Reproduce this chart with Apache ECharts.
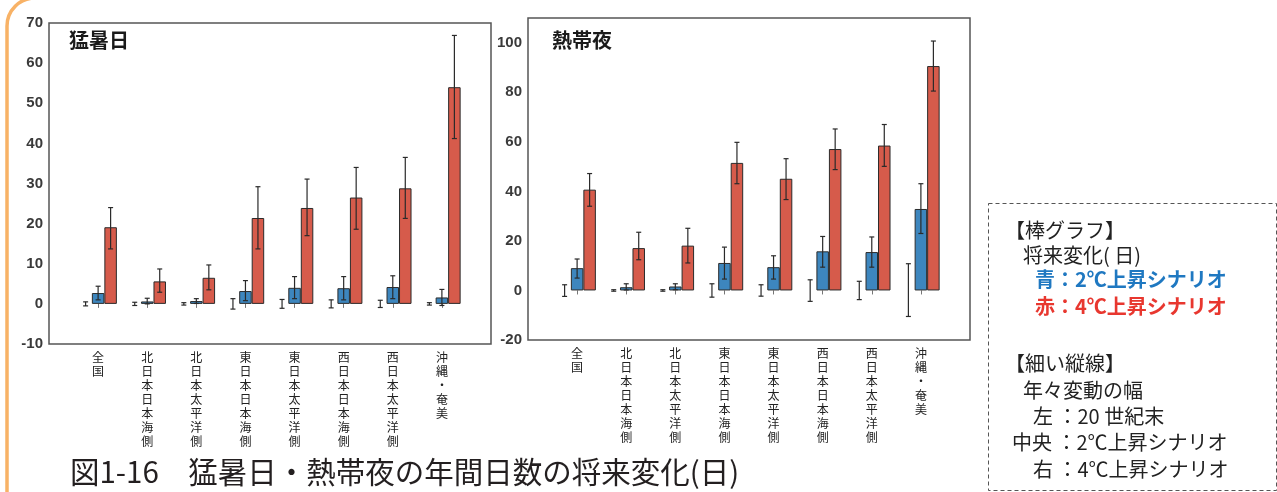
<!DOCTYPE html>
<html lang="ja">
<head>
<meta charset="utf-8">
<title>猛暑日・熱帯夜の年間日数の将来変化</title>
<script src="https://cdn.jsdelivr.net/npm/echarts@6/dist/echarts.min.js"></script>
<style>
  html, body { margin: 0; padding: 0; background: #fff; }
  #chart { width: 1277px; height: 492px; }
</style>
</head>
<body>
<div id="chart"></div>
<script>
// 地域区分
const regions = ['全国', '北日本日本海側', '北日本太平洋側', '東日本日本海側', '東日本太平洋側', '西日本日本海側', '西日本太平洋側', '沖縄・奄美'];

// 猛暑日 将来変化（日）
const moshoBlue = [2.7, 0.6, 0.7, 3.2, 4.0, 3.9, 4.2, 1.6];
const moshoRed = [19.1, 5.6, 6.5, 21.4, 23.9, 26.5, 28.8, 54.0];
// 年々変動の幅 [下端, 上端]
const moshoRange20c = [[-0.5, 0.5], [-0.4, 0.4], [-0.3, 0.3], [-1.3, 1.3], [-1.1, 1.1], [-1.0, 1.0], [-0.9, 0.9], [-0.3, 0.3]];
const moshoRangeBlue = [[1.0, 4.4], [0.0, 1.4], [0.1, 1.3], [0.8, 5.8], [1.3, 6.8], [1.0, 6.8], [1.3, 7.0], [-0.4, 3.6]];
const moshoRangeRed = [[13.7, 24.0], [2.9, 8.7], [3.5, 9.7], [13.7, 29.2], [17.0, 31.1], [18.6, 34.0], [21.3, 36.5], [41.2, 66.9]];

// 熱帯夜 将来変化（日）
const nettaiBlue = [9.0, 1.3, 1.6, 11.1, 9.4, 15.8, 15.5, 32.9];
const nettaiRed = [40.7, 17.1, 18.1, 51.5, 45.1, 57.1, 58.5, 90.6];
const nettaiRange20c = [[-2.4, 2.3], [-0.3, 0.3], [-0.3, 0.3], [-2.7, 2.7], [-2.3, 2.3], [-4.4, 4.3], [-3.7, 3.7], [-10.5, 10.8]];
const nettaiRangeBlue = [[5.0, 12.7], [0.2, 2.7], [0.3, 2.7], [4.6, 17.5], [4.6, 14.0], [9.4, 21.8], [9.4, 21.6], [23.0, 43.1]];
const nettaiRangeRed = [[34.0, 47.2], [12.4, 23.5], [11.1, 25.1], [43.1, 59.8], [36.7, 53.2], [48.8, 65.2], [50.1, 67.0], [80.5, 100.7]];

// 軸目盛
const moshoTicks = { min: -10, max: 70, interval: 10 };
const nettaiTicks = { min: -20, max: 110, interval: 20 };

const BAR_W = 12.5;
const CAP = 2.5;
const FONT_JP = "'Noto Sans CJK JP', sans-serif";

// 両端に空のカテゴリを置いて、棒の位置を元の図に合わせる
const pad = arr => ['-'].concat(arr, ['-']);
const categories = [''].concat(regions, ['']);

function errorData(ranges) {
  const out = [];
  ranges.forEach((list, slot) => {
    list.forEach((r, i) => out.push([i + 1, r[0], r[1], slot]));
  });
  return out;
}

function renderErrorBar(params, api) {
  const cat = api.value(0);
  const slot = api.value(3); // 0: 20世紀末, 1: 2℃, 2: 4℃
  const top = api.coord([cat, api.value(2)]);
  const bottom = api.coord([cat, api.value(1)]);
  const x = top[0] + (slot - 1) * BAR_W;
  const style = { stroke: '#2a2a2a', lineWidth: 1.2 };
  return {
    type: 'group',
    children: [
      { type: 'line', shape: { x1: x, y1: top[1], x2: x, y2: bottom[1] }, style: style },
      { type: 'line', shape: { x1: x - CAP, y1: top[1], x2: x + CAP, y2: top[1] }, style: style },
      { type: 'line', shape: { x1: x - CAP, y1: bottom[1], x2: x + CAP, y2: bottom[1] }, style: style }
    ]
  };
}

function makeSeries(g, blue, red, ranges) {
  return [
    { type: 'bar', xAxisIndex: g, yAxisIndex: g, data: pad(blue.map(() => 0)), barWidth: BAR_W, barGap: '0%',
      itemStyle: { color: 'transparent', borderWidth: 0 }, silent: true },
    { type: 'bar', xAxisIndex: g, yAxisIndex: g, data: pad(blue), barWidth: BAR_W, barGap: '0%',
      itemStyle: { color: '#3d86be', borderColor: '#2b2b2b', borderWidth: 1 } },
    { type: 'bar', xAxisIndex: g, yAxisIndex: g, data: pad(red), barWidth: BAR_W, barGap: '0%',
      itemStyle: { color: '#d65b4b', borderColor: '#2b2b2b', borderWidth: 1 } },
    { type: 'custom', xAxisIndex: g, yAxisIndex: g, data: errorData(ranges), renderItem: renderErrorBar,
      encode: { x: 0, y: [1, 2] }, z: 10 }
  ];
}

function xAxisOf(g) {
  return {
    gridIndex: g,
    type: 'category',
    boundaryGap: false,
    data: categories,
    axisLine: { show: false },
    axisTick: { show: true, length: 4, interval: (i, v) => v !== '', lineStyle: { color: '#777' } },
    axisLabel: {
      interval: 0,
      margin: 6,
      formatter: v => v.split('').join('\n'),
      fontSize: 12,
      lineHeight: 14,
      color: '#222',
      fontFamily: FONT_JP
    }
  };
}

function yAxisOf(g, t) {
  return {
    gridIndex: g,
    type: 'value',
    min: t.min,
    max: t.max,
    interval: t.interval,
    axisLine: { show: false },
    axisTick: { show: false },
    splitLine: { show: false },
    axisLabel: {
      margin: 6,
      fontSize: 15,
      fontWeight: 'bold',
      color: '#3a3a3a',
      fontFamily: "'Liberation Sans', sans-serif",
      formatter: v => (v % t.interval === 0 ? String(v) : '')
    }
  };
}

const legendLines = [
  { text: '【棒グラフ】', x: 1005, y: 230, color: '#222', bold: false },
  { text: '将来変化( 日)', x: 1023, y: 255, color: '#222', bold: false },
  { text: '青：2℃上昇シナリオ', x: 1035, y: 279, color: '#1f78c1', bold: true },
  { text: '赤：4℃上昇シナリオ', x: 1035, y: 306, color: '#e8372f', bold: true },
  { text: '【細い縦線】', x: 1005, y: 363, color: '#222', bold: false },
  { text: '年々変動の幅', x: 1023, y: 390, color: '#222', bold: false },
  { text: '左 ：20 世紀末', x: 1033, y: 416, color: '#222', bold: false },
  { text: '中央 ：2℃上昇シナリオ', x: 1012, y: 442, color: '#222', bold: false },
  { text: '右 ：4℃上昇シナリオ', x: 1033, y: 469, color: '#222', bold: false }
];

const chart = echarts.init(document.getElementById('chart'));

const option = {
  backgroundColor: '#fff',
  animation: false,
  title: [
    { text: '猛暑日', left: 69, top: 30, padding: 0,
      textStyle: { fontSize: 20, fontWeight: 'bold', color: '#1a1a1a', fontFamily: FONT_JP } },
    { text: '熱帯夜', left: 552, top: 30, padding: 0,
      textStyle: { fontSize: 20, fontWeight: 'bold', color: '#1a1a1a', fontFamily: FONT_JP } }
  ],
  grid: [
    { left: 49, top: 23, width: 442, height: 321, show: true, borderColor: '#555', borderWidth: 1.5, containLabel: false },
    { left: 528, top: 18, width: 442, height: 322, show: true, borderColor: '#555', borderWidth: 1.5, containLabel: false }
  ],
  xAxis: [xAxisOf(0), xAxisOf(1)],
  yAxis: [yAxisOf(0, moshoTicks), yAxisOf(1, nettaiTicks)],
  series: makeSeries(0, moshoBlue, moshoRed, [moshoRange20c, moshoRangeBlue, moshoRangeRed])
    .concat(makeSeries(1, nettaiBlue, nettaiRed, [nettaiRange20c, nettaiRangeBlue, nettaiRangeRed])),
  graphic: [
    // 左側のオレンジ枠
    { type: 'rect', shape: { x: 7, y: -2, width: 2000, height: 2000, r: 28 },
      style: { fill: 'none', stroke: '#f8b266', lineWidth: 3.5 }, silent: true },
    // 凡例の点線枠
    { type: 'rect', shape: { x: 988.5, y: 203.5, width: 288, height: 287 },
      style: { fill: 'none', stroke: '#555', lineWidth: 1, lineDash: [4, 3] }, silent: true },
    // 図のキャプション
    { type: 'text', x: 70, y: 472,
      style: { text: '図1-16　猛暑日・熱帯夜の年間日数の将来変化(日)', fill: '#231f20',
        fontSize: 29.5, fontFamily: FONT_JP, verticalAlign: 'middle' } }
  ].concat(legendLines.map(l => ({
    type: 'text', x: l.x, y: l.y,
    style: { text: l.text, fill: l.color, fontSize: 20, fontWeight: l.bold ? 'bold' : 'normal',
      fontFamily: FONT_JP, verticalAlign: 'middle' }
  })))
};

chart.setOption(option);
</script>
</body>
</html>
